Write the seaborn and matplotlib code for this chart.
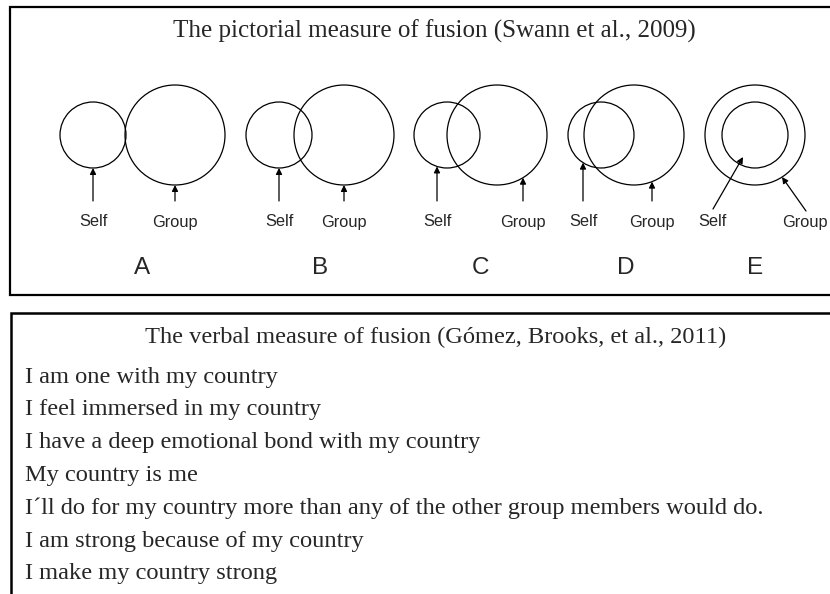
import numpy as np
import matplotlib.pyplot as plt
import matplotlib.patches as mpatches
import seaborn as sns

# panel labels and distance between self and group circle centres (px)
panels = ['A', 'B', 'C', 'D', 'E']
center_distance = [82, 65, 50, 33, 0]
circle_labels = ['Self', 'Group']

top_title = 'The pictorial measure of fusion (Swann et al., 2009)'
bottom_title = 'The verbal measure of fusion (Gómez, Brooks, et al., 2011)'
items = [
    'I am one with my country',
    'I feel immersed in my country',
    'I have a deep emotional bond with my country',
    'My country is me',
    'I´ll do for my country more than any of the other group members would do.',
    'I am strong because of my country',
    'I make my country strong',
]

# layout (pixel coordinates)
group_x = [175, 344, 497, 634, 755]
self_arrow_dx = [0, 0, -10, -18, 0]
group_arrow_dx = [0, 0, 26, 18, 0]
cy = 135
r_self, r_group = 33, 50

sns.set_theme(style='white')
plt.rcParams['font.family'] = ['Liberation Sans', 'DejaVu Sans']

fig = plt.figure(figsize=(8.3, 5.94), dpi=100)
ax = fig.add_axes([0, 0, 1, 1])
ax.set_xlim(0, 830)
ax.set_ylim(594, 0)
ax.axis('off')

serif = ['Liberation Serif', 'DejaVu Serif']

# boxes
ax.plot([840, 10, 10, 840], [6.5, 6.5, 295, 295], color='black', lw=1.6, solid_joinstyle='miter')
ax.plot([11, 11, 840], [600, 313, 313], color='black', lw=1.8, solid_joinstyle='miter')

ax.text(434, 31, top_title, family=serif, fontsize=18, ha='center', va='center')

arrow = dict(arrowstyle='-|>', mutation_scale=9, lw=0.9, color='black',
             shrinkA=0, shrinkB=0)

for i, lab in enumerate(panels):
    gx = group_x[i]
    sx = gx - center_distance[i]
    ax.add_patch(mpatches.Circle((sx, cy), r_self, fill=False, lw=0.9, ec='black'))
    ax.add_patch(mpatches.Circle((gx, cy), r_group, fill=False, lw=0.9, ec='black'))

    left = min(sx - r_self, gx - r_group)
    right = max(sx + r_self, gx + r_group)
    ax.text((left + right) / 2, 268, lab, fontsize=17.5, ha='center', va='center')

    if lab == 'E':
        ax.annotate('', xy=(743, 157), xytext=(713, 209), arrowprops=arrow)
        ax.annotate('', xy=(782, 177), xytext=(806, 211), arrowprops=arrow)
        ax.text(712, 222, circle_labels[0], fontsize=11.8, ha='center', va='center')
        ax.text(805, 222, circle_labels[1], fontsize=11.8, ha='center', va='center')
        continue

    ax_s = sx + self_arrow_dx[i]
    tip_s = cy + np.sqrt(r_self ** 2 - self_arrow_dx[i] ** 2)
    ax_g = gx + group_arrow_dx[i]
    tip_g = cy + np.sqrt(r_group ** 2 - group_arrow_dx[i] ** 2)
    ax.annotate('', xy=(ax_s, tip_s), xytext=(ax_s, 201), arrowprops=arrow)
    ax.annotate('', xy=(ax_g, tip_g), xytext=(ax_g, 201), arrowprops=arrow)
    ax.text(ax_s, 222, circle_labels[0], fontsize=11.8, ha='center', va='center')
    ax.text(ax_g, 222, circle_labels[1], fontsize=11.8, ha='center', va='center')

ax.text(436, 337, bottom_title, family=serif, fontsize=17.6, ha='center', va='center')
for j, line in enumerate(items):
    ax.text(25, 377 + 32.8 * j, line, family=serif, fontsize=17.6, ha='left', va='center')

fig.savefig('out.png', dpi=100)
